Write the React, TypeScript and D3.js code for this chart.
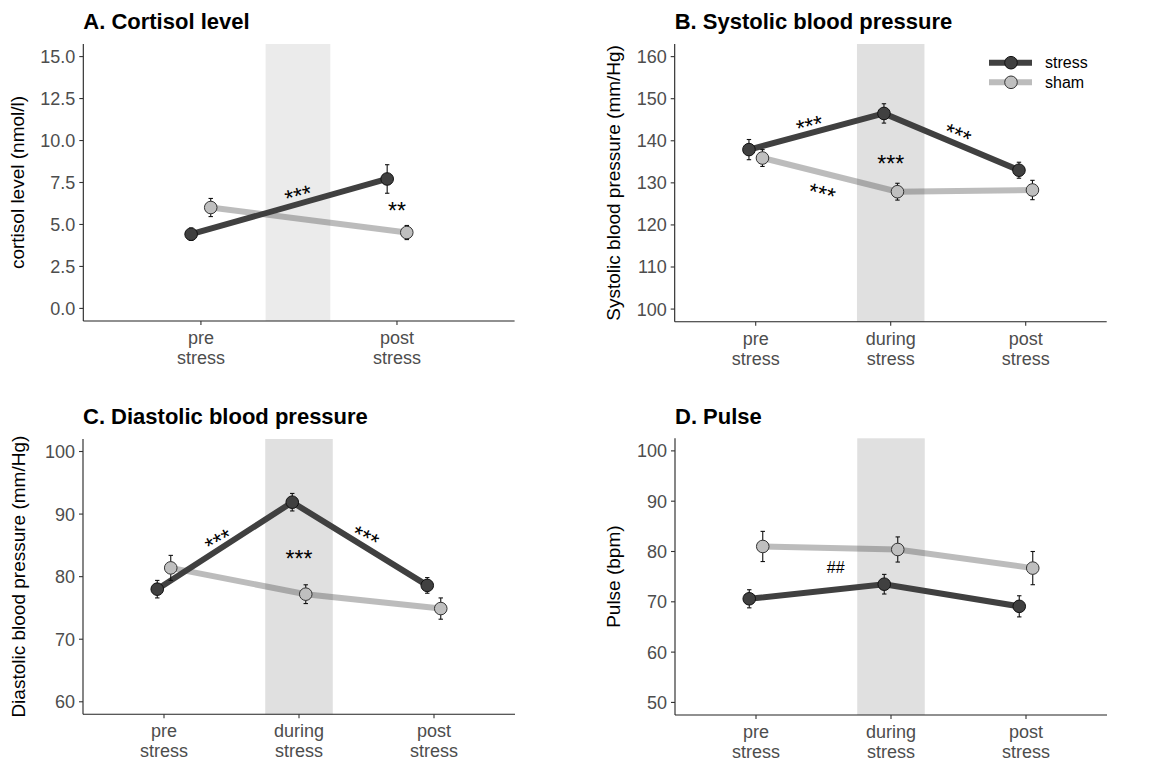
import React from "react";
import * as d3 from "d3";

const width = 1159;
const height = 762;
const font = "'Liberation Sans', Arial, sans-serif";

// categories
const phases2 = ["pre", "post"];
const phases3 = ["pre", "during", "post"];

// A. cortisol
const cortisolStress = [4.42, 7.71];
const cortisolStressSe = [0.37, 0.85];
const cortisolSham = [6.01, 4.52];
const cortisolShamSe = [0.54, 0.42];
const cortisolTicks = [0, 2.5, 5, 7.5, 10, 12.5, 15];
const cortisolDomain = [-0.75, 15.75];
const cortisolShade = [1.33, 1.66];
const cortisolNotes = [
  { x: 1.49, y: 7.05, text: "***", angle: -15 },
  { x: 2.0, y: 6.15, text: "**", angle: 0 },
];

// B. systolic
const sbpStress = [137.9, 146.5, 133.0];
const sbpStressSe = [2.4, 2.3, 1.9];
const sbpSham = [135.9, 127.9, 128.3];
const sbpShamSe = [2.0, 2.0, 2.3];
const sbpTicks = [100, 110, 120, 130, 140, 150, 160];
const sbpDomain = [97, 163];
const sbpNotes = [
  { x: 1.39, y: 144.9, text: "***", angle: -14 },
  { x: 2.51, y: 142.7, text: "***", angle: 22 },
  { x: 2.0, y: 135.9, text: "***", angle: 0 },
  { x: 1.5, y: 128.8, text: "***", angle: 14 },
];

// C. diastolic
const dbpStress = [78.0, 91.9, 78.6];
const dbpStressSe = [1.4, 1.4, 1.25];
const dbpSham = [81.4, 77.2, 74.9];
const dbpShamSe = [2.0, 1.5, 1.7];
const dbpTicks = [60, 70, 80, 90, 100];
const dbpDomain = [58, 102];
const dbpNotes = [
  { x: 1.385, y: 86.5, text: "***", angle: -28 },
  { x: 2.0, y: 83.7, text: "***", angle: 0 },
  { x: 2.51, y: 87.1, text: "***", angle: 25 },
];

// D. pulse
const pulseStress = [70.6, 73.5, 69.1];
const pulseStressSe = [1.8, 1.95, 2.1];
const pulseSham = [81.0, 80.4, 76.7];
const pulseShamSe = [3.0, 2.5, 3.3];
const pulseTicks = [50, 60, 70, 80, 90, 100];
const pulseDomain = [47.5, 102.5];
const pulseNotes = [{ x: 1.59, y: 76.8, text: "##", angle: 0 }];

const bpShade = [1.75, 2.25];
const groups = ["stress", "sham"];

const stressCol = "#404040";
const shamCol = "#bfbfbf";

const panels = [
  {
    title: "A. Cortisol level", yTitle: "cortisol level (nmol/l)", cats: phases2,
    stress: cortisolStress, stressSe: cortisolStressSe, sham: cortisolSham, shamSe: cortisolShamSe,
    ticks: cortisolTicks, domain: cortisolDomain, fmt: d3.format(".1f"), shade: cortisolShade,
    shadeColor: "#ebebeb", notes: cortisolNotes,
    frame: { left: 83.3, right: 514.6, top: 44, bottom: 321 }, titleY: 29, yTitleX: 24, legend: false,
  },
  {
    title: "B. Systolic blood pressure", yTitle: "Systolic blood pressure (mm/Hg)", cats: phases3,
    stress: sbpStress, stressSe: sbpStressSe, sham: sbpSham, shamSe: sbpShamSe,
    ticks: sbpTicks, domain: sbpDomain, fmt: d3.format("d"), shade: bpShade,
    shadeColor: "#e0e0e0", notes: sbpNotes,
    frame: { left: 674.7, right: 1106.7, top: 44, bottom: 321.7 }, titleY: 29, yTitleX: 620, legend: true,
  },
  {
    title: "C. Diastolic blood pressure", yTitle: "Diastolic blood pressure (mm/Hg)", cats: phases3,
    stress: dbpStress, stressSe: dbpStressSe, sham: dbpSham, shamSe: dbpShamSe,
    ticks: dbpTicks, domain: dbpDomain, fmt: d3.format("d"), shade: bpShade,
    shadeColor: "#e0e0e0", notes: dbpNotes,
    frame: { left: 83, right: 515, top: 439, bottom: 714.3 }, titleY: 423.5, yTitleX: 25, legend: false,
  },
  {
    title: "D. Pulse", yTitle: "Pulse (bpm)", cats: phases3,
    stress: pulseStress, stressSe: pulseStressSe, sham: pulseSham, shamSe: pulseShamSe,
    ticks: pulseTicks, domain: pulseDomain, fmt: d3.format("d"), shade: bpShade,
    shadeColor: "#e0e0e0", notes: pulseNotes,
    frame: { left: 675, right: 1107, top: 438.3, bottom: 715 }, titleY: 423.5, yTitleX: 620, legend: false,
  },
];

const Panel = ({ p }: { p: any }) => {
  const { left, right, top, bottom } = p.frame;
  const x = d3.scalePoint<string>().domain(p.cats).range([left, right]).padding(0.6);
  const step = x.step();
  const xu = (u: number) => (x(p.cats[0]) as number) + (u - 1) * step;
  const y = d3.scaleLinear().domain(p.domain).range([bottom, top]);

  const series = [
    { name: groups[0], values: p.stress, se: p.stressSe, offset: -0.05, fill: stressCol, line: stressCol, op: 1, pstroke: "#111" },
    { name: groups[1], values: p.sham, se: p.shamSe, offset: 0.05, fill: shamCol, line: stressCol, op: 0.35, pstroke: "#333" },
  ];

  return (
    <g>
      <text x={left} y={p.titleY} fontSize={22} fontWeight="bold" fontFamily={font} fill="#000">{p.title}</text>
      <rect x={xu(p.shade[0])} y={top} width={xu(p.shade[1]) - xu(p.shade[0])} height={bottom - top} fill={p.shadeColor} />
      {series.map((s) => {
        const line = d3.line<number>().x((d, i) => xu(i + 1 + s.offset)).y((d) => y(d));
        return <path key={s.name} d={line(s.values) as string} fill="none" stroke={s.line} strokeOpacity={s.op} strokeWidth={6} />;
      })}
      {series.map((s) =>
        s.values.map((v: number, i: number) => {
          const cx = xu(i + 1 + s.offset);
          const y1 = y(v - s.se[i]);
          const y2 = y(v + s.se[i]);
          return (
            <g key={s.name + i} stroke="#111" strokeWidth={1.1}>
              <line x1={cx} x2={cx} y1={y1} y2={y2} />
              <line x1={cx - 2.2} x2={cx + 2.2} y1={y1} y2={y1} />
              <line x1={cx - 2.2} x2={cx + 2.2} y1={y2} y2={y2} />
            </g>
          );
        })
      )}
      {series.map((s) =>
        s.values.map((v: number, i: number) => (
          <circle key={"c" + s.name + i} cx={xu(i + 1 + s.offset)} cy={y(v)} r={6.3} fill={s.fill} stroke={s.pstroke} strokeWidth={1} />
        ))
      )}
      {p.notes.map((n: any, i: number) => {
        const fs = n.text[0] === "#" ? 16 : 23;
        const dy = n.text[0] === "#" ? 0.36 * fs : 0.6 * fs;
        return (
          <text key={"n" + i} transform={`translate(${xu(n.x)},${y(n.y)}) rotate(${n.angle})`} dy={dy}
            textAnchor="middle" fontSize={fs} fontFamily={font} fill="#000">{n.text}</text>
        );
      })}
      {/* axes */}
      <line x1={left} x2={right} y1={bottom} y2={bottom} stroke="#222" strokeWidth={1.1} />
      <line x1={left} x2={left} y1={top} y2={bottom} stroke="#222" strokeWidth={1.1} />
      {p.ticks.map((t: number) => (
        <g key={"t" + t}>
          <line x1={left - 4} x2={left} y1={y(t)} y2={y(t)} stroke="#333" strokeWidth={1.1} />
          <text x={left - 8} y={y(t)} dy="0.36em" textAnchor="end" fontSize={18} fontFamily={font} fill="#4d4d4d">{p.fmt(t)}</text>
        </g>
      ))}
      {p.cats.map((c: string) => (
        <g key={c}>
          <line x1={x(c)} x2={x(c)} y1={bottom} y2={bottom + 4} stroke="#333" strokeWidth={1.1} />
          <text x={x(c)} y={bottom + 23} textAnchor="middle" fontSize={18} fontFamily={font} fill="#4d4d4d">{c}</text>
          <text x={x(c)} y={bottom + 43} textAnchor="middle" fontSize={18} fontFamily={font} fill="#4d4d4d">stress</text>
        </g>
      ))}
      <text transform={`translate(${p.yTitleX},${(top + bottom) / 2}) rotate(-90)`} textAnchor="middle"
        fontSize={19} fontFamily={font} fill="#000">{p.yTitle}</text>
      {p.legend && (
        <g>
          {series.map((s, i) => {
            const ly = 62.7 + i * 19.6;
            return (
              <g key={"l" + s.name}>
                <line x1={989} x2={1032} y1={ly} y2={ly} stroke={s.line} strokeOpacity={s.op} strokeWidth={6} />
                <circle cx={1011} cy={ly} r={6.3} fill={s.fill} stroke={s.pstroke} strokeWidth={1} />
                <text x={1045} y={ly} dy="0.36em" fontSize={16} fontFamily={font} fill="#000">{s.name}</text>
              </g>
            );
          })}
        </g>
      )}
    </g>
  );
};

const App = () => (
  <svg width={width} height={height} style={{ position: "absolute", left: 0, top: 0, background: "#fff" }}>
    <rect width={width} height={height} fill="#fff" />
    {panels.map((p) => <Panel key={p.title} p={p} />)}
  </svg>
);

export default App;
